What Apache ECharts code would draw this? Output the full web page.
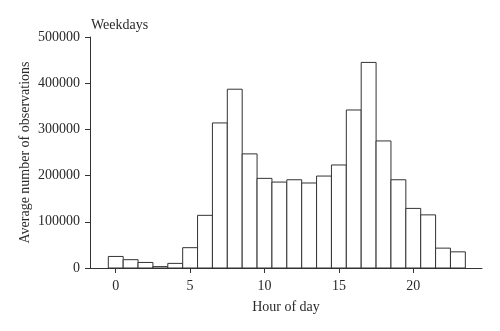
<!DOCTYPE html>
<html>
<head>
<meta charset="utf-8">
<script src="https://cdn.jsdelivr.net/npm/echarts@6/dist/echarts.min.js"></script>
<style>html,body{margin:0;padding:0;background:#fff;}#c{width:500px;height:331px;}</style>
</head>
<body>
<div id="c"></div>
<script>
const hours = [0,1,2,3,4,5,6,7,8,9,10,11,12,13,14,15,16,17,18,19,20,21,22,23];
const observations = [25000,18000,12000,3000,10000,44000,114000,314000,387000,247000,194000,186000,191000,184000,199000,223000,342000,445000,275000,191000,129000,115000,43000,35000];
const xTicks = [0,5,10,15,20];
const yTicks = [0,100000,200000,300000,400000,500000];

const FONT = 'Liberation Serif';
const TXT = '#2a2a2a';
const FS = 14;
const chart = echarts.init(document.getElementById('c'), null, {renderer:'canvas'});
chart.setOption({
  animation: false,
  title: {
    text: 'Weekdays', left: 86, top: 13,
    textStyle: {fontFamily: FONT, fontSize: FS, fontWeight: 'normal', color: TXT}
  },
  grid: {left: 90, right: 18, top: 37, bottom: 63, containLabel: false},
  xAxis: {
    type: 'value', min: -1.73, max: 24.62,
    name: 'Hour of day', nameLocation: 'middle', nameGap: 32, nameMoveOverlap: false,
    nameTextStyle: {fontFamily: FONT, fontSize: FS, color: TXT},
    axisLine: {show: true, onZero: false, lineStyle: {color: '#333', width: 1}},
    axisTick: {show: true, length: 5, lineStyle: {color: '#333'}, customValues: xTicks},
    axisLabel: {fontFamily: FONT, fontSize: FS, color: TXT, margin: 11, customValues: xTicks,
      formatter: v => String(v)},
    splitLine: {show: false}
  },
  yAxis: {
    type: 'value', min: 0, max: 500000, interval: 100000,
    name: 'Average number of observations', nameLocation: 'middle', nameGap: 58, nameMoveOverlap: false,
    nameTextStyle: {fontFamily: FONT, fontSize: FS, color: TXT},
    axisLine: {show: true, onZero: false, lineStyle: {color: '#333', width: 1}},
    axisTick: {show: true, length: 5, lineStyle: {color: '#333'}},
    axisLabel: {fontFamily: FONT, fontSize: FS, color: TXT, margin: 10, customValues: yTicks,
      formatter: v => String(v)},
    splitLine: {show: false}
  },
  series: [{
    type: 'custom',
    data: hours.map((h, i) => [h, observations[i]]),
    encode: {x: 0, y: 1},
    renderItem: function (params, api) {
      const x = api.value(0), v = api.value(1);
      const p0 = api.coord([x - 0.5, v]);
      const p1 = api.coord([x + 0.5, 0]);
      return {
        type: 'rect',
        shape: {x: p0[0], y: p0[1], width: p1[0] - p0[0], height: p1[1] - p0[1]},
        style: {fill: '#fff', stroke: '#333', lineWidth: 1}
      };
    }
  }]
});
</script>
</body>
</html>
